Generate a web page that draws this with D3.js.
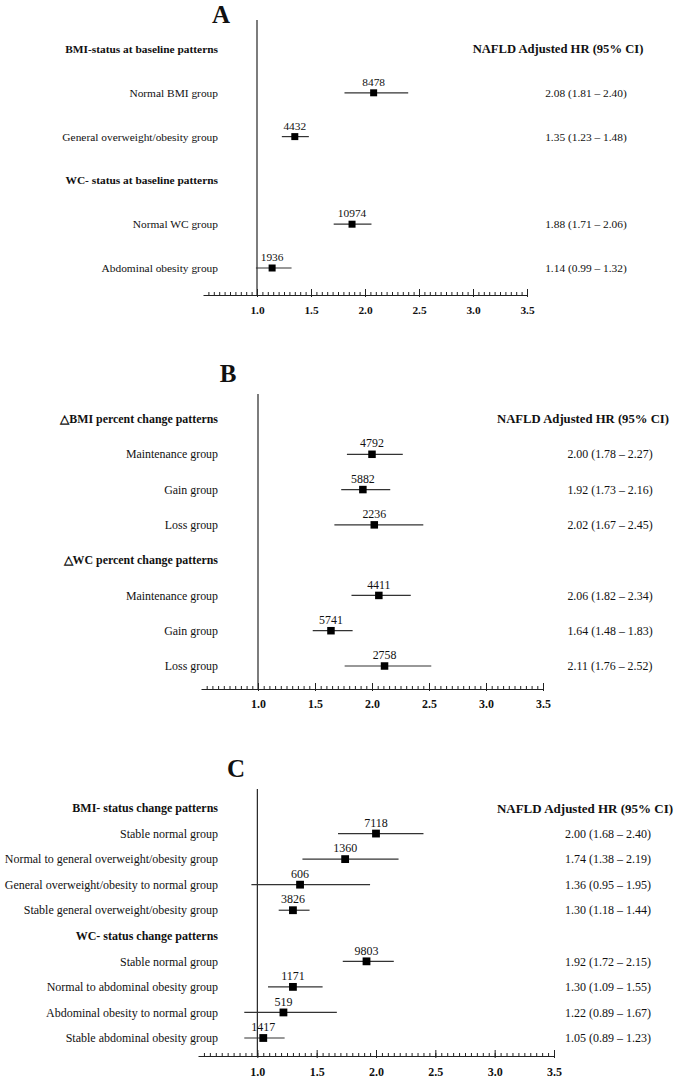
<!DOCTYPE html>
<html><head><meta charset="utf-8">
<script src="https://cdn.jsdelivr.net/npm/d3@7/dist/d3.min.js"></script>
<style>
html,body{margin:0;padding:0;background:#fff;}
svg text{font-family:"Liberation Serif","Times New Roman",serif !important;fill:#111;}
</style></head>
<body><svg id="c" width="677" height="1080"></svg>
<script>
// ---------- DATA ----------
const tickValues = [1.0, 1.5, 2.0, 2.5, 3.0, 3.5];
const tickLabels = ["1.0", "1.5", "2.0", "2.5", "3.0", "3.5"];
const hrHeader = "NAFLD Adjusted HR (95% CI)";
const panelTitles = ["A", "B", "C"];

const aLabels = ["BMI-status at baseline patterns", "Normal BMI group", "General overweight/obesity group",
  "WC- status at baseline patterns", "Normal WC group", "Abdominal obesity group"];
const aHeader = [true, false, false, true, false, false];
const aN   = [null, 8478, 4432, null, 10974, 1936];
const aHR  = [null, 2.08, 1.35, null, 1.88, 1.14];
const aLo  = [null, 1.81, 1.23, null, 1.71, 0.99];
const aHi  = [null, 2.40, 1.48, null, 2.06, 1.32];

const bLabels = ["\u25B3BMI percent change patterns", "Maintenance group", "Gain group", "Loss group",
  "\u25B3WC percent change patterns", "Maintenance group", "Gain group", "Loss group"];
const bHeader = [true, false, false, false, true, false, false, false];
const bN   = [null, 4792, 5882, 2236, null, 4411, 5741, 2758];
const bHR  = [null, 2.00, 1.92, 2.02, null, 2.06, 1.64, 2.11];
const bLo  = [null, 1.78, 1.73, 1.67, null, 1.82, 1.48, 1.76];
const bHi  = [null, 2.27, 2.16, 2.45, null, 2.34, 1.83, 2.52];

const cLabels = ["BMI- status change patterns", "Stable normal group", "Normal to general overweight/obesity group",
  "General overweight/obesity to normal group", "Stable general overweight/obesity group",
  "WC- status change patterns", "Stable normal group", "Normal to abdominal obesity group",
  "Abdominal obesity to normal group", "Stable abdominal obesity group"];
const cHeader = [true, false, false, false, false, true, false, false, false, false];
const cN   = [null, 7118, 1360, 606, 3826, null, 9803, 1171, 519, 1417];
const cHR  = [null, 2.00, 1.74, 1.36, 1.30, null, 1.92, 1.30, 1.22, 1.05];
const cLo  = [null, 1.68, 1.38, 0.95, 1.18, null, 1.72, 1.09, 0.89, 0.89];
const cHi  = [null, 2.40, 2.19, 1.95, 1.44, null, 2.15, 1.55, 1.67, 1.23];

// ---------- LAYOUT ----------
const panels = [
  {title: panelTitles[0], labels: aLabels, header: aHeader, n: aN, hr: aHR, lo: aLo, hi: aHi,
   xr: [203, 527], rows: [49, 268], vTop: 20, axisY: 295, tx: 221, ty: 14, hrX: 586, hdrX: 558,
   fs: 11.4, hfs: 12.6, sq: 7},
  {title: panelTitles[1], labels: bLabels, header: bHeader, n: bN, hr: bHR, lo: bLo, hi: bHi,
   xr: [201, 543], rows: [419, 666], vTop: 394, axisY: 689, tx: 228, ty: 373, hrX: 610, hdrX: 583,
   fs: 11.9, hfs: 12.7, sq: 7.5},
  {title: panelTitles[2], labels: cLabels, header: cHeader, n: cN, hr: cHR, lo: cLo, hi: cHi,
   xr: [198, 554], rows: [808, 1038], vTop: 789, axisY: 1056, tx: 236, ty: 768, hrX: 608, hdrX: 585,
   fs: 12, hfs: 13, sq: 7.8}
];

const svg = d3.select("#c");
const fmt = d3.format(".2f");
const minorTicks = d3.range(11, 71).map(i => i * 0.05);

panels.forEach(p => {
  const g = svg.append("g");
  const x = d3.scaleLinear().domain([0.5, 3.5]).range(p.xr);
  const y = d3.scalePoint().domain(d3.range(p.labels.length)).range(p.rows);

  // title
  g.append("text").attr("x", p.tx).attr("y", p.ty).attr("dy", "0.35em")
    .attr("text-anchor", "middle").attr("font-weight", "bold").attr("font-size", 25).text(p.title);

  // reference line at 1
  g.append("line").attr("x1", x(1)).attr("x2", x(1)).attr("y1", p.vTop).attr("y2", p.axisY)
    .attr("stroke", "#111").attr("stroke-width", 1.1);

  // axis: minor ticks
  g.append("g").attr("transform", `translate(0,${p.axisY})`)
    .call(d3.axisTop(x).tickValues(minorTicks).tickSize(3).tickSizeOuter(0).tickFormat(""))
    .call(s => s.selectAll("line").attr("stroke", "#222"))
    .call(s => s.select(".domain").attr("stroke", "#222"));
  // major ticks
  g.append("g").attr("transform", `translate(0,${p.axisY})`)
    .call(d3.axisTop(x).tickValues(tickValues).tickSize(6).tickSizeOuter(0).tickFormat(""))
    .call(s => s.select(".domain").remove())
    .call(s => s.selectAll("line").attr("stroke", "#222"));
  g.append("g").attr("transform", `translate(0,${p.axisY})`)
    .call(d3.axisBottom(x).tickValues(tickValues).tickSize(2).tickPadding(9)
      .tickFormat((d, i) => tickLabels[i]))
    .call(s => s.select(".domain").remove())
    .call(s => s.selectAll("line").attr("stroke", "#222"))
    .call(s => s.selectAll("text")
      .attr("font-weight", "bold").attr("font-size", p.fs).attr("fill", "#111"));

  // left labels
  g.selectAll(".lab").data(p.labels).join("text")
    .attr("x", 218).attr("y", (d, i) => y(i)).attr("dy", "0.35em")
    .attr("text-anchor", "end").attr("font-size", p.fs)
    .attr("font-weight", (d, i) => p.header[i] ? "bold" : "normal").text(d => d);

  // HR header
  g.append("text").attr("x", p.hdrX).attr("y", y(0)).attr("dy", "0.35em")
    .attr("text-anchor", "middle").attr("font-weight", "bold").attr("font-size", p.hfs).text(hrHeader);

  const idx = d3.range(p.labels.length).filter(i => !p.header[i]);

  // CI lines
  g.selectAll(".ci").data(idx).join("line")
    .attr("x1", i => x(p.lo[i])).attr("x2", i => x(p.hi[i]))
    .attr("y1", i => y(i)).attr("y2", i => y(i))
    .attr("stroke", "#333").attr("stroke-width", 1.2);
  // squares
  g.selectAll(".sq").data(idx).join("rect")
    .attr("x", i => x(p.hr[i]) - p.sq / 2).attr("y", i => y(i) - p.sq / 2)
    .attr("width", p.sq).attr("height", p.sq).attr("fill", "#000");
  // n labels
  g.selectAll(".n").data(idx).join("text")
    .attr("x", i => x(p.hr[i])).attr("y", i => y(i) - 11).attr("dy", "0.35em")
    .attr("text-anchor", "middle").attr("font-size", p.fs).text(i => p.n[i]);
  // HR text
  g.selectAll(".hr").data(idx).join("text")
    .attr("x", p.hrX).attr("y", i => y(i)).attr("dy", "0.35em")
    .attr("text-anchor", "middle").attr("font-size", p.fs)
    .text(i => `${fmt(p.hr[i])} (${fmt(p.lo[i])} \u2013 ${fmt(p.hi[i])})`);
});
</script></body></html>
